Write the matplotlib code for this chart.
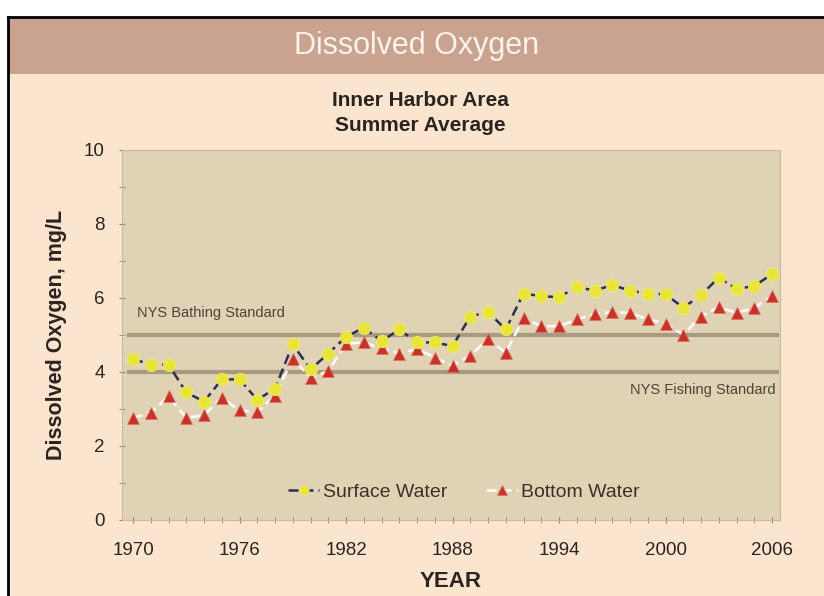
import numpy as np
import matplotlib.pyplot as plt
from matplotlib.patches import Rectangle
from matplotlib.lines import Line2D

years = list(range(1970, 2007))
surface = [4.35, 4.2, 4.2, 3.45, 3.2, 3.8, 3.8, 3.25, 3.55, 4.75, 4.07, 4.5,
           4.95, 5.2, 4.83, 5.15, 4.8, 4.8, 4.7, 5.5, 5.62, 5.15, 6.12, 6.05,
           6.02, 6.3, 6.2, 6.35, 6.2, 6.12, 6.1, 5.74, 6.08, 6.55, 6.25, 6.32, 6.65]
bottom = [2.76, 2.9, 3.34, 2.76, 2.83, 3.31, 2.96, 2.92, 3.36, 4.36, 3.85, 4.02,
          4.77, 4.8, 4.64, 4.5, 4.62, 4.39, 4.17, 4.44, 4.9, 4.52, 5.45, 5.24,
          5.24, 5.42, 5.57, 5.62, 5.6, 5.42, 5.31, 5.01, 5.5, 5.76, 5.6, 5.73, 6.05]
bathing_std = 5.0
fishing_std = 4.0
xtick_years = [1970, 1976, 1982, 1988, 1994, 2000, 2006]
ytick_vals = [0, 2, 4, 6, 8, 10]

fig = plt.figure(figsize=(8.24, 5.96), dpi=100)
fig.patch.set_facecolor('white')
plt.rcParams['font.family'] = ['Liberation Sans', 'DejaVu Sans']

# page background, header band and black frame
fig.patches.append(Rectangle((8 / 824, 0), 1, 1 - 17 / 596, transform=fig.transFigure,
                             facecolor='#fce5cf', edgecolor='none', zorder=-2))
fig.patches.append(Rectangle((8 / 824, 1 - 74 / 596), 1, 57 / 596, transform=fig.transFigure,
                             facecolor='#c9a290', edgecolor='none', zorder=-1))
fig.lines.append(Line2D([8 / 824, 8 / 824], [0, 1 - 17 / 596], transform=fig.transFigure,
                        color='black', lw=2, zorder=2))
fig.lines.append(Line2D([8 / 824, 1], [1 - 17 / 596, 1 - 17 / 596], transform=fig.transFigure,
                        color='black', lw=2, zorder=2))

fig.text(0.505, 1 - 46 / 596, 'Dissolved Oxygen', ha='center', va='center',
         color='#fdf3ea', fontsize=22)
fig.text(0.51, 1 - 100 / 596, 'Inner Harbor Area', ha='center', va='center',
         color='#2a2320', fontsize=15, fontweight='bold')
fig.text(0.51, 1 - 125 / 596, 'Summer Average', ha='center', va='center',
         color='#2a2320', fontsize=15, fontweight='bold')

ax = fig.add_axes([122 / 824, 76 / 596, 658 / 824, 370 / 596])
ax.set_zorder(5)
ax.set_facecolor('#e0d2b5')
for s in ax.spines.values():
    s.set_color('#c9b99c')

ax.plot([1969.75, 2006.3], [bathing_std, bathing_std], color='#a89a80', lw=3, zorder=2)
ax.plot([1969.75, 2006.3], [fishing_std, fishing_std], color='#a89a80', lw=3, zorder=2)
ax.text(1970.2, 5.5, 'NYS Bathing Standard', fontsize=10.5, color='#4a4438')
ax.text(2006.2, 3.4, 'NYS Fishing Standard', fontsize=10.5, color='#4a4438', ha='right')

ax.plot(years, bottom, color='white', lw=1.8, ls=(0, (4, 2)), marker='^',
        ms=9, mfc='#c8322a', mec='#e07060', mew=0.5, label='Bottom Water', zorder=3)
ax.plot(years, surface, color='#2a3050', lw=1.8, ls=(0, (4, 2)), marker='o',
        ms=9, mfc='#e8e43a', mec='#f0ec70', mew=0.5, label='Surface Water', zorder=4)

ax.set_xlim(1969.38, 2006.45)
ax.set_ylim(0, 10)
ax.set_xticks(xtick_years)
ax.set_xticks(years, minor=True)
ax.set_yticks(ytick_vals)
ax.set_yticks(range(0, 11), minor=True)
ax.tick_params(axis='both', which='both', colors='#8c8070', labelcolor='#2a2320',
               labelsize=13.5, direction='inout')
ax.tick_params(axis='both', which='major', length=5)
ax.tick_params(axis='both', which='minor', length=4)
ax.tick_params(axis='x', pad=13)
ax.tick_params(axis='y', pad=10)

ax.set_xlabel('YEAR', fontsize=16, fontweight='bold', color='#2a2320', labelpad=9)
ax.set_ylabel('Dissolved Oxygen, mg/L', fontsize=15.5, fontweight='bold',
              color='#2a2320', labelpad=12)

h, l = ax.get_legend_handles_labels()
ax.legend(h[::-1], l[::-1], loc='lower center', bbox_to_anchor=(0.52, 0.005), ncol=2,
          frameon=False, fontsize=14, handlelength=1.6, handletextpad=0.2,
          columnspacing=2.0, markerscale=0.75, labelcolor='#3a3228')

fig.savefig('out.png', dpi=100)
